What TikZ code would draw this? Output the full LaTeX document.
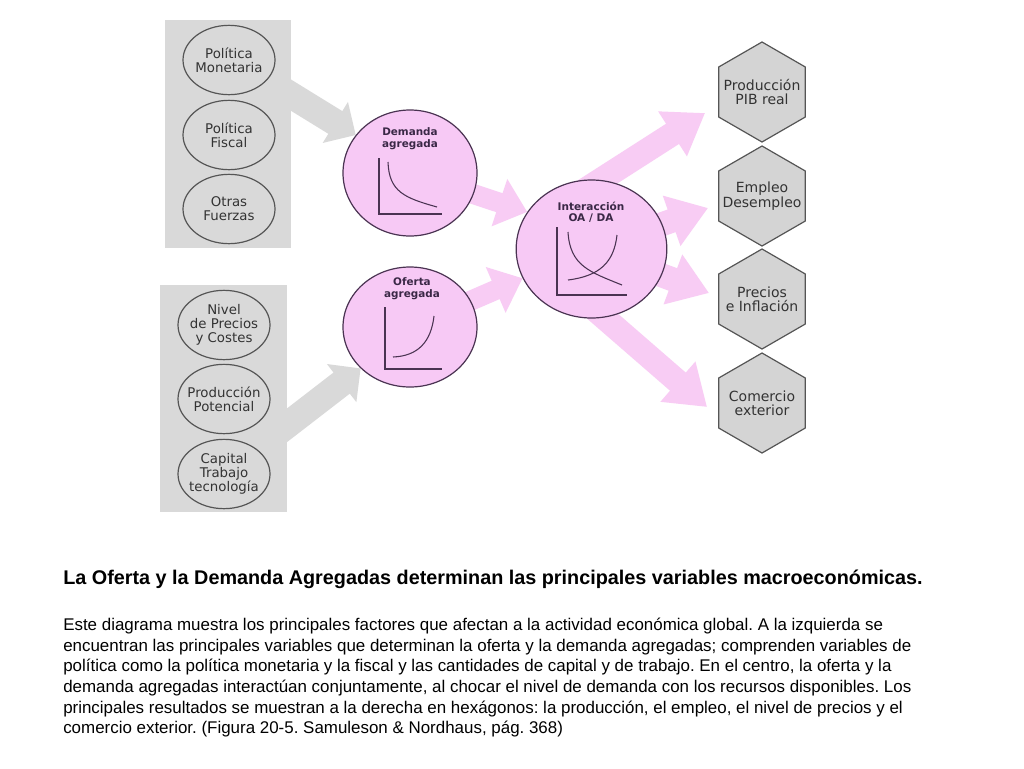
\documentclass[tikz,border=0pt]{standalone}
\usepackage{fontspec}
\setmainfont{Liberation Sans}
\newfontfamily\dejavu{DejaVu Sans}
\usetikzlibrary{shapes.geometric,arrows.meta,calc,backgrounds}

\definecolor{panelgray}{HTML}{D9D9D9}
\definecolor{hexgray}{HTML}{D4D4D4}
\definecolor{edgegray}{HTML}{555555}
\definecolor{pinkfill}{HTML}{F7C9F5}
\definecolor{pinkarrow}{HTML}{F8CCF4}
\definecolor{purpleline}{HTML}{4A3352}
\definecolor{purpletext}{HTML}{3A2846}
\definecolor{textgray}{HTML}{333333}

\begin{document}
\begin{tikzpicture}[x=0.75pt,y=-0.75pt,
  panel/.style={fill=panelgray, draw=none, inner sep=0pt},
  factor/.style={ellipse, draw=edgegray, line width=0.9pt, fill=panelgray,
    minimum width=69pt, minimum height=52pt, inner sep=0pt},
  factortext/.style={align=center, inner sep=0pt, text=textgray,
    font=\dejavu\fontsize{10}{10.5}\selectfont},
  hextext/.style={factortext, font=\dejavu\fontsize{10.5}{10.8}\selectfont},
  bubble/.style={ellipse, draw=purpleline, line width=0.9pt, fill=pinkfill, inner sep=0pt},
  bubbletext/.style={align=center, inner sep=0pt, text=purpletext,
    font=\dejavu\bfseries\fontsize{7.8}{9}\selectfont},
  hexa/.style={regular polygon, regular polygon sides=6, shape border rotate=30,
    draw=edgegray, line width=0.9pt, fill=hexgray, minimum size=75pt, inner sep=0pt},
  curve/.style={draw=purpleline, line width=0.8pt},
  grayarr/.style={draw=panelgray, line width=20pt, -{Triangle[width=35pt,length=18pt]}},
  pinkarr/.style={draw=pinkarrow, line width=15pt, -{Triangle[width=36pt,length=22pt]}},
  pinkout/.style={draw=pinkarrow, line width=18pt, -{Triangle[width=38pt,length=29pt]}},
]
\useasboundingbox (0,0) rectangle (1024,768);

% gray panels
\node[panel, minimum width=94.5pt, minimum height=171pt] (ptop) at (228,134) {};
\node[panel, minimum width=95.25pt, minimum height=170.25pt] (pbot) at (223.5,398.5) {};

% factor ellipses
\node[factor] (f1) at (229,60) {};
\node[factor] (f2) at (229,135) {};
\node[factor] (f3) at (229,209) {};
\node[factor] (f4) at (224,325) {};
\node[factor] (f5) at (224,399) {};
\node[factor] (f6) at (224,474) {};
\node[factortext] (f1t) at (f1) {Política\\Monetaria};
\node[factortext] (f2t) at (f2) {Política\\Fiscal};
\node[factortext] (f3t) at (f3) {Otras\\Fuerzas};
\node[factortext] (f4t) at (f4) {Nivel\\de Precios\\y Costes};
\node[factortext] (f5t) at (f5) {Producción\\Potencial};
\node[factortext] (f6t) at (f6) {Capital\\Trabajo\\tecnología};

% pink bubbles
\node[bubble, minimum width=100.5pt, minimum height=94.5pt] (dem) at (410,173) {};
\node[bubble, minimum width=100.5pt, minimum height=90pt] (ofe) at (410,327) {};
\node[bubble, minimum width=113pt, minimum height=103.5pt] (inter) at (591.5,249) {};
\node[bubbletext] (demt) at (410,139) {Demanda\\agregada};
\node[bubbletext] (ofet) at (412,289) {Oferta\\agregada};
\node[bubbletext, font=\dejavu\bfseries\fontsize{7.9}{8}\selectfont] (intert) at (591,212) {Interacción\\OA / DA};

% hexagons
\node[hexa] (h1) at (762,92) {};
\node[hexa] (h2) at (762,196) {};
\node[hexa] (h3) at (762,299) {};
\node[hexa] (h4) at (762,403) {};
\node[hextext] (h1t) at (h1) {Producción\\PIB real};
\node[hextext] (h2t) at (h2) {Empleo\\Desempleo};
\node[hextext] (h3t) at (h3) {Precios\\e Inflación};
\node[hextext] (h4t) at (h4) {Comercio\\exterior};

% small graphs in bubbles
\draw[curve] (379,158) -- (379,214) -- (442,214);
\draw[curve] (388,162) .. controls (389,192) and (405,198) .. (437,207);
\draw[curve] (385,307) -- (385,369) -- (442,369);
\draw[curve] (393,357) .. controls (418,356) and (431,342) .. (434,316);
\draw[curve] (557,227) -- (557,295) -- (627,295);
\draw[curve] (568,232) .. controls (570,266) and (590,272) .. (622,285);
\draw[curve] (568,280) .. controls (600,276) and (614,262) .. (617,235);

% arrows behind
\begin{pgfonlayer}{background}
  \fill[white] (0,0) rectangle (1024,768);
  \coordinate (g1) at ($(ptop.east)+(-20,-51)$);
  \coordinate (g2) at ($(pbot.east)+(-20,42)$);
  \draw[grayarr] (g1) -- (dem.145);
  \draw[grayarr] (g2) -- (ofe.220);
  \draw[pinkarr] (dem.center) -- (inter.150);
  \draw[pinkarr] (ofe.center) -- (inter.203);
  \coordinate (s1) at ($(inter.center)+(-30,-44)$);
  \coordinate (s4) at ($(inter.center)+(-26,35)$);
  \coordinate (t1) at ($(h1.west)+(-13,21)$);
  \coordinate (t2) at ($(h2.west)+(-10,12)$);
  \coordinate (t3) at ($(h3.west)+(-9,-6)$);
  \coordinate (t4) at ($(h4.west)+(-11,4)$);
  \draw[pinkout] (s1) -- (t1);
  \draw[pinkout] (inter.center) -- (t2);
  \draw[pinkout] (inter.center) -- (t3);
  \draw[pinkout] (s4) -- (t4);
\end{pgfonlayer}

% caption
\node[anchor=base west, inner sep=0pt, font=\bfseries\fontsize{14.85}{17}\selectfont] (title) at (63,584)
  {La Oferta y la Demanda Agregadas determinan las principales variables macroeconómicas.};
\node[anchor=north west, inner sep=0pt, align=left, font=\frenchspacing\fontsize{12.7}{15.45}\selectfont] (body) at (63,618)
  {Este diagrama muestra los principales factores que afectan a la actividad económica global. A la izquierda se\\
   encuentran las principales variables que determinan la oferta y la demanda agregadas; comprenden variables de\\
   política como la política monetaria y la fiscal y las cantidades de capital y de trabajo. En el centro, la oferta y la\\
   demanda agregadas interactúan conjuntamente, al chocar el nivel de demanda con los recursos disponibles. Los\\
   principales resultados se muestran a la derecha en hexágonos: la producción, el empleo, el nivel de precios y el\\
   comercio exterior. (Figura 20-5. Samuleson \& Nordhaus, pág. 368)};
\end{tikzpicture}
\end{document}
